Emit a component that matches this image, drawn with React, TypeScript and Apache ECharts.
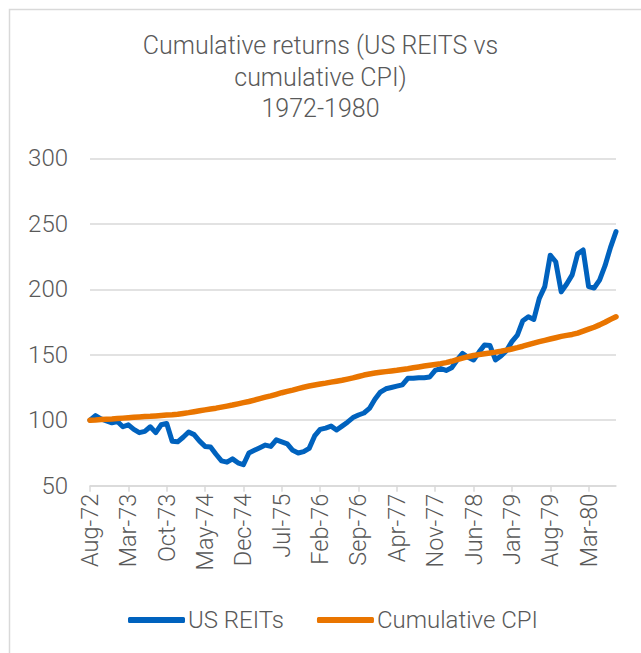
import React, { useEffect, useRef } from "react";
import * as echarts from "echarts";

const monthNames = ["Jan", "Feb", "Mar", "Apr", "May", "Jun", "Jul", "Aug", "Sep", "Oct", "Nov", "Dec"];
const categories: string[] = [];
for (let k = 0; k < 97; k++) {
  const m = (7 + k) % 12;
  const y = 72 + Math.floor((7 + k) / 12);
  categories.push(monthNames[m] + "-" + y);
}

const usReits = [
  100, 103.5, 101, 99.5, 98, 99, 95, 96.5, 93, 90.5,
  91.5, 95, 90.5, 96.5, 97.5, 84, 83.5, 87, 91, 89,
  84, 80, 79.5, 74, 69, 68, 70.5, 67.5, 66, 75,
  77, 79, 81, 80, 85, 83.5, 82, 77, 75, 76,
  78.5, 88, 93, 94, 95.5, 92.5, 95.5, 98.5, 102, 104,
  105.5, 109, 116, 121.5, 124, 125, 126, 127, 132, 132,
  132.5, 132.5, 133, 138, 139.5, 138, 140, 146, 151, 148,
  146, 152, 157.5, 157, 146, 149, 153, 160, 165, 176,
  179, 177, 193, 202, 226, 221, 198, 204, 211, 227,
  230, 202, 201, 207, 218, 232, 244,
];

const cumulativeCpi = [
  100.0, 100.2, 100.5, 100.8, 101.0, 101.3, 101.6, 101.9, 102.2, 102.5,
  102.8, 103.0, 103.3, 103.6, 103.9, 104.2, 104.6, 105.2, 105.8, 106.5,
  107.2, 107.9, 108.6, 109.2, 110.0, 110.8, 111.6, 112.5, 113.4, 114.3,
  115.4, 116.5, 117.6, 118.6, 119.8, 121.0, 122.0, 123.0, 124.1, 125.2,
  126.1, 126.9, 127.6, 128.3, 129.1, 129.8, 130.5, 131.4, 132.3, 133.4,
  134.5, 135.3, 136.0, 136.6, 137.1, 137.6, 138.1, 138.7, 139.3, 140.0,
  140.7, 141.4, 142.0, 142.6, 143.2, 144.0, 145.0, 146.2, 147.4, 148.5,
  149.4, 150.1, 150.8, 151.4, 152.0, 152.7, 153.5, 154.4, 155.4, 156.5,
  157.7, 158.9, 160.0, 161.0, 162.0, 163.0, 164.0, 164.8, 165.5, 166.5,
  168.0, 169.5, 171.0, 172.8, 174.8, 177.0, 179.0,
];

const titleText = "Cumulative returns (US REITS vs\ncumulative CPI)\n1972-1980";
const TEXT = "#595959";
const FONT = "Roboto";

export default function App() {
  const ref = useRef<HTMLDivElement>(null);
  useEffect(() => {
    if (!ref.current) return;
    const chart = echarts.init(ref.current, null, { renderer: "svg" });
    chart.setOption({
      animation: false,
      backgroundColor: "#ffffff",
      textStyle: { fontFamily: FONT },
      graphic: [
        {
          type: "rect",
          shape: { x: 9.5, y: 9.5, width: 700, height: 700 },
          style: { fill: "none", stroke: "#d9d9d9", lineWidth: 1.5 },
          silent: true,
        },
      ],
      title: {
        text: titleText,
        left: "center",
        top: 25,
        textStyle: {
          fontFamily: FONT,
          fontWeight: 300,
          fontSize: 25,
          color: TEXT,
          lineHeight: 31.5,
        },
      },
      legend: {
        left: 123,
        top: 603,
        icon: "roundRect",
        itemWidth: 57,
        itemHeight: 6,
        itemGap: 33,
        textStyle: { fontFamily: FONT, fontWeight: 300, fontSize: 24, color: TEXT, padding: [0, 0, 0, -2] },
        data: ["US REITs", "Cumulative CPI"],
      },
      grid: { left: 90, right: 25, top: 158.3, bottom: 167.3, containLabel: false },
      xAxis: {
        type: "category",
        data: categories,
        boundaryGap: false,
        axisLine: { show: true, lineStyle: { color: "#d9d9d9", width: 1.5 } },
        axisTick: { show: true, interval: 6, length: 6, lineStyle: { color: "#d9d9d9", width: 1.5 } },
        axisLabel: {
          interval: 6,
          rotate: 90,
          margin: 8,
          fontFamily: FONT,
          fontWeight: 300,
          fontSize: 23.5,
          color: TEXT,
        },
      },
      yAxis: {
        type: "value",
        min: 50,
        max: 300,
        interval: 50,
        axisLine: { show: false },
        axisTick: { show: false },
        splitLine: { lineStyle: { color: "#d9d9d9", width: 1.5 } },
        axisLabel: { margin: 22, fontFamily: FONT, fontWeight: 300, fontSize: 24, color: TEXT },
      },
      series: [
        {
          name: "US REITs",
          type: "line",
          data: usReits,
          symbol: "none",
          lineStyle: { color: "#0062be", width: 5, cap: "round", join: "round" },
          itemStyle: { color: "#0062be" },
          z: 3,
        },
        {
          name: "Cumulative CPI",
          type: "line",
          data: cumulativeCpi,
          symbol: "none",
          lineStyle: { color: "#e97500", width: 5.5, cap: "round", join: "round" },
          itemStyle: { color: "#e97500" },
          z: 4,
        },
      ],
    });
    return () => chart.dispose();
  }, []);
  return (
    <div
      ref={ref}
      style={{ position: "fixed", left: 0, top: 0, width: 641, height: 653 }}
    />
  );
}
